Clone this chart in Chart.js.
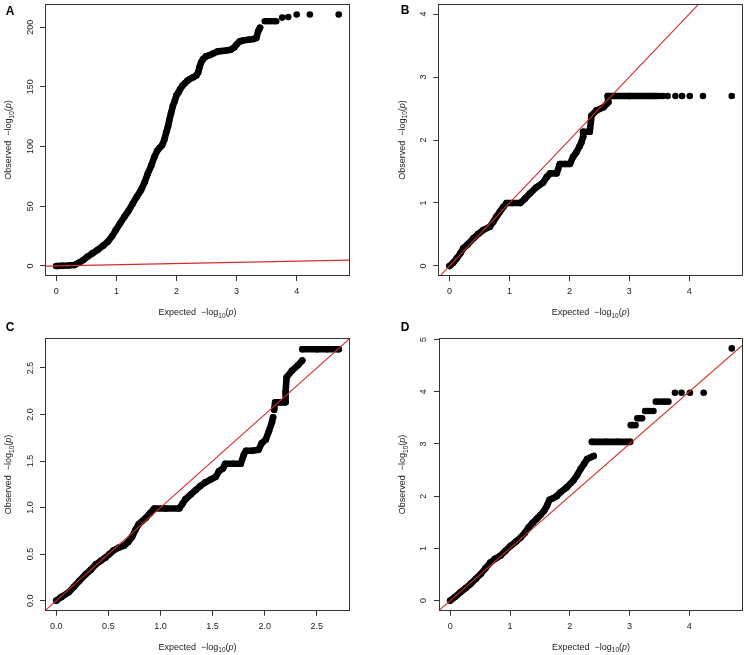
<!DOCTYPE html>
<html>
<head>
<meta charset="utf-8">
<script src="https://cdn.jsdelivr.net/npm/chart.js@4/dist/chart.umd.min.js"></script>
<style>
  body { margin:0; background:#fff; }
  .panel { position:absolute; }
</style>
</head>
<body>
<div class="panel" style="left:0;top:0"><canvas id="qqA" width="374" height="328"></canvas></div>
<div class="panel" style="left:374px;top:0"><canvas id="qqB" width="373" height="328"></canvas></div>
<div class="panel" style="left:0;top:314px"><canvas id="qqC" width="374" height="341"></canvas></div>
<div class="panel" style="left:374px;top:314px"><canvas id="qqD" width="373" height="341"></canvas></div>
<script>
// observed vs expected -log10(p) as [expected, observed]

// panel A
var aBulk = [[0,0],[0.1,0.1],[0.2,0.3],[0.3,0.8],[0.38,2.8],[0.45,5],[0.52,7.8],[0.6,10.5],[0.69,13.5],[0.78,17],
  [0.86,20.5],[0.93,25],[0.99,30],[1.06,35.5],[1.13,41],[1.2,46],[1.27,52],[1.34,58],[1.41,63.5],[1.47,70],
  [1.52,77],[1.58,84],[1.63,91],[1.68,96.5],[1.72,99],[1.76,101],[1.8,106],[1.83,112],[1.86,117],[1.88,122],
  [1.91,128],[1.94,134],[1.97,138],[2.0,143],[2.03,145],[2.06,148],[2.1,151],[2.14,153],[2.18,155],[2.22,156.5],
  [2.28,158],[2.33,159.5],[2.36,162],[2.38,166],[2.41,170.5],[2.44,173],[2.49,175.5],[2.55,176.5],[2.61,178],[2.68,179.5],
  [2.75,180],[2.83,180.5],[2.9,181],[2.96,183],[3.0,185.5],[3.05,188],[3.12,189],[3.2,189.5],[3.28,190],[3.33,191],
  [3.36,196.5],[3.39,199.5]];
var aTail = [[3.47,205],[3.52,205],[3.57,205],[3.62,205],[3.66,205],[3.76,208],[3.86,208.5],[4.0,210.6],[4.22,210.6],[4.7,210.6]];
var aTicksX = [0,1,2,3,4];
var aTicksY = [0,50,100,150,200];

// panel B
var bBulk = [[0,0],[0.06,0.05],[0.12,0.12],[0.18,0.2],[0.23,0.28],[0.3,0.34],[0.4,0.44],[0.48,0.51],[0.56,0.57],[0.67,0.62],
  [0.73,0.7],[0.78,0.78],[0.84,0.86],[0.9,0.94],[0.95,1.0],[1.05,1.0],[1.18,1.0],[1.26,1.07],[1.34,1.15],[1.45,1.25],
  [1.56,1.32],[1.62,1.41],[1.68,1.47],[1.79,1.47],[1.84,1.62],[1.93,1.62],[2.01,1.62],[2.06,1.73],[2.12,1.81],[2.17,1.9],
  [2.2,1.96],[2.23,2.05],[2.23,2.13],[2.34,2.13],[2.37,2.39],[2.45,2.47],[2.57,2.52],[2.63,2.58],[2.65,2.6],[2.64,2.7],
  [3.0,2.7],[3.45,2.7]];
var bTail = [[3.5,2.7],[3.56,2.7],[3.64,2.7],[3.77,2.7],[3.88,2.7],[4.01,2.7],[4.23,2.7],[4.71,2.7]];
var bTicksX = [0,1,2,3,4];
var bTicksY = [0,1,2,3,4];

// panel C
var cBulk = [[0,0],[0.05,0.04],[0.12,0.09],[0.17,0.15],[0.22,0.21],[0.28,0.28],[0.33,0.33],[0.38,0.39],[0.43,0.43],[0.47,0.46],
  [0.51,0.5],[0.55,0.54],[0.6,0.57],[0.65,0.59],[0.69,0.63],[0.73,0.69],[0.76,0.76],[0.79,0.82],[0.86,0.89],[0.9,0.94],
  [0.94,0.99],[1.05,0.99],[1.18,0.99],[1.21,1.04],[1.24,1.09],[1.29,1.14],[1.34,1.19],[1.38,1.23],[1.43,1.27],[1.48,1.3],
  [1.53,1.33],[1.56,1.39],[1.6,1.42],[1.62,1.47],[1.7,1.47],[1.77,1.47],[1.8,1.57],[1.82,1.61],[1.88,1.61],[1.94,1.62],
  [1.97,1.69],[2.01,1.73],[2.04,1.82],[2.07,1.92],[2.08,1.97]];
var cUpper = [[2.09,2.05],[2.1,2.13],[2.15,2.13],[2.2,2.13],[2.2,2.24],[2.21,2.4],[2.26,2.47],[2.32,2.53],[2.36,2.58]];
var cTop = [[2.36,2.7],[2.5,2.7],[2.6,2.7],[2.71,2.7]];
var cTicksX = [0,0.5,1,1.5,2,2.5];
var cTicksY = [0,0.5,1,1.5,2,2.5];

// panel D
var dBulk = [[0,0],[0.08,0.07],[0.17,0.16],[0.26,0.24],[0.34,0.32],[0.43,0.42],[0.51,0.51],[0.59,0.62],[0.67,0.73],[0.75,0.8],
  [0.84,0.86],[0.92,0.95],[1.01,1.05],[1.1,1.13],[1.18,1.21],[1.25,1.3],[1.31,1.4],[1.38,1.49],[1.45,1.57],[1.51,1.64],
  [1.57,1.72],[1.62,1.82],[1.66,1.93],[1.72,1.96],[1.78,2.0],[1.84,2.07],[1.95,2.17],[2.06,2.3],[2.12,2.4],[2.18,2.52],
  [2.24,2.62],[2.29,2.71],[2.4,2.77]];
var dRow = [[2.37,3.04],[2.6,3.04],[2.8,3.04],[3.01,3.04]];
var dTail = [[3.02,3.36],[3.06,3.36],[3.1,3.36],[3.13,3.49],[3.17,3.49],[3.21,3.49],[3.26,3.63],[3.3,3.63],[3.35,3.63],[3.4,3.63],
  [3.44,3.81],[3.49,3.81],[3.55,3.81],[3.6,3.81],[3.65,3.81],[3.76,3.98],[3.87,3.98],[4.01,3.98],[4.24,3.98],[4.71,4.83]];
var dTicksX = [0,1,2,3,4];
var dTicksY = [0,1,2,3,4,5];

// y = x reference line
var refLine = [[-1,-1],[6,6]];

var fontFam = '"Liberation Sans", Arial, Helvetica, sans-serif';
var textColor = '#222';
var red = 'rgb(214,44,40)';

function pts(arr)
{
  return arr.map(function(p){ return {x:p[0], y:p[1]}; });
}

// draws "Word  -log10(p)" with subscript and italic p
function drawMath(ctx, word, cx, cy, rot)
{
  var pieces = [
    {t: word + '  \u2212log', size: 9},
    {t: '10', size: 6.5, dy: 2.3},
    {t: '(', size: 9},
    {t: 'p', size: 9, it: true},
    {t: ')', size: 9}
  ];
  ctx.save();
  ctx.translate(cx, cy);
  ctx.rotate(rot);
  ctx.textBaseline = 'alphabetic';
  ctx.textAlign = 'left';
  ctx.fillStyle = textColor;
  var w = 0;
  pieces.forEach(function(p){
    ctx.font = (p.it ? 'italic ' : '') + p.size + 'px ' + fontFam;
    p.w = ctx.measureText(p.t).width;
    w += p.w;
  });
  var x = -w/2;
  pieces.forEach(function(p){
    ctx.font = (p.it ? 'italic ' : '') + p.size + 'px ' + fontFam;
    ctx.fillText(p.t, x, 3.2 + (p.dy || 0));
    x += p.w;
  });
  ctx.restore();
}

var qqFrame = {
  id: 'qqFrame',
  afterDraw: function(chart, args, opts)
  {
    var a = chart.chartArea, ctx = chart.ctx;
    ctx.save();
    ctx.strokeStyle = '#333';
    ctx.lineWidth = 1;
    var l = Math.round(a.left) + 0.5, t = Math.round(a.top) + 0.5;
    var r = Math.round(a.right) - 0.5, b = Math.round(a.bottom) - 0.5;
    ctx.strokeRect(l, t, r - l, b - t);

    drawMath(ctx, 'Expected', (a.left + a.right)/2, a.bottom + 36, 0);
    drawMath(ctx, 'Observed', a.left - 37, (a.top + a.bottom)/2, -Math.PI/2);

    ctx.font = 'bold 12px ' + fontFam;
    ctx.fillStyle = '#000';
    ctx.textAlign = 'center';
    ctx.textBaseline = 'middle';
    ctx.fillText(opts.letter, opts.lx, opts.ly);
    ctx.restore();
  }
};
Chart.register(qqFrame);

function makeQQ(id, cfg)
{
  var datasets = [
    {data: pts(refLine), showLine: true, borderColor: red, borderWidth: 1.1, pointRadius: 0, clip: 0}
  ];
  // dense parts drawn as a thick band, sparse parts as single dots
  cfg.bands.forEach(function(s){
    datasets.push({data: pts(s), showLine: true, borderColor: '#000', borderWidth: 6.6,
      borderJoinStyle: 'round', borderCapStyle: 'round',
      pointRadius: 3.3, pointBackgroundColor: '#000', pointBorderWidth: 0});
  });
  cfg.dots.forEach(function(s){
    datasets.push({data: pts(s), showLine: false,
      pointRadius: 3.3, pointBackgroundColor: '#000', pointBorderWidth: 0});
  });

  var tickFont = {family: fontFam, size: 9};

  new Chart(document.getElementById(id), {
    type: 'scatter',
    data: {datasets: datasets},
    options: {
      responsive: false,
      animation: false,
      devicePixelRatio: 1,
      events: [],
      layout: {padding: {left: 0, top: cfg.top, right: cfg.right, bottom: 0}},
      plugins: {
        legend: {display: false},
        tooltip: {enabled: false},
        qqFrame: {letter: cfg.letter, lx: cfg.lx, ly: cfg.ly}
      },
      scales: {
        x: {
          type: 'linear', position: 'bottom', min: cfg.xmin, max: cfg.xmax,
          afterBuildTicks: function(s){ s.ticks = cfg.ticksX.map(function(v){ return {value: v}; }); },
          afterFit: function(s){ s.height = cfg.xh; s.paddingLeft = 0; s.paddingRight = 0; },
          grid: {drawOnChartArea: false, drawTicks: true, tickLength: 5, color: '#333'},
          border: {display: false},
          ticks: {font: tickFont, color: textColor, padding: 5.5, autoSkip: false, maxRotation: 0,
            callback: function(v){ return cfg.dec ? v.toFixed(1) : String(v); }}
        },
        y: {
          type: 'linear', position: 'left', min: cfg.ymin, max: cfg.ymax,
          afterBuildTicks: function(s){ s.ticks = cfg.ticksY.map(function(v){ return {value: v}; }); },
          afterFit: function(s){ s.width = cfg.yw; s.paddingTop = 0; s.paddingBottom = 0; },
          grid: {drawOnChartArea: false, drawTicks: true, tickLength: 5, color: '#333'},
          border: {display: false},
          ticks: {font: tickFont, color: textColor, padding: cfg.ypad, autoSkip: false,
            minRotation: 90, maxRotation: 90, crossAlign: 'center',
            callback: function(v){ return cfg.dec ? v.toFixed(1) : String(v); }}
        }
      }
    }
  });
}

makeQQ('qqA', {letter: 'A', lx: 10, ly: 12, top: 3.3, right: 24, yw: 45, xh: 52, ypad: 2,
  xmin: -0.188, xmax: 4.888, ymin: -8.43, ymax: 219.4, ticksX: aTicksX, ticksY: aTicksY,
  bands: [aBulk], dots: [aTail]});

makeQQ('qqB', {letter: 'B', lx: 31, ly: 11, top: 3, right: 3.7, yw: 64.3, xh: 52, ypad: 7,
  xmin: -0.188, xmax: 4.898, ymin: -0.16, ymax: 4.16, ticksX: bTicksX, ticksY: bTicksY,
  bands: [bBulk], dots: [bTail]});

makeQQ('qqC', {letter: 'C', lx: 10, ly: 14, top: 24.3, right: 24, yw: 45, xh: 44.3, ypad: 3, dec: true,
  xmin: -0.108, xmax: 2.818, ymin: -0.108, ymax: 2.818, ticksX: cTicksX, ticksY: cTicksY,
  bands: [cBulk, cUpper, cTop], dots: []});

makeQQ('qqD', {letter: 'D', lx: 31, ly: 14, top: 24.3, right: 3.7, yw: 65, xh: 44.3, ypad: 7.5,
  xmin: -0.188, xmax: 4.898, ymin: -0.193, ymax: 5.023, ticksX: dTicksX, ticksY: dTicksY,
  bands: [dBulk, dRow], dots: [dTail]});
</script>
</body>
</html>
